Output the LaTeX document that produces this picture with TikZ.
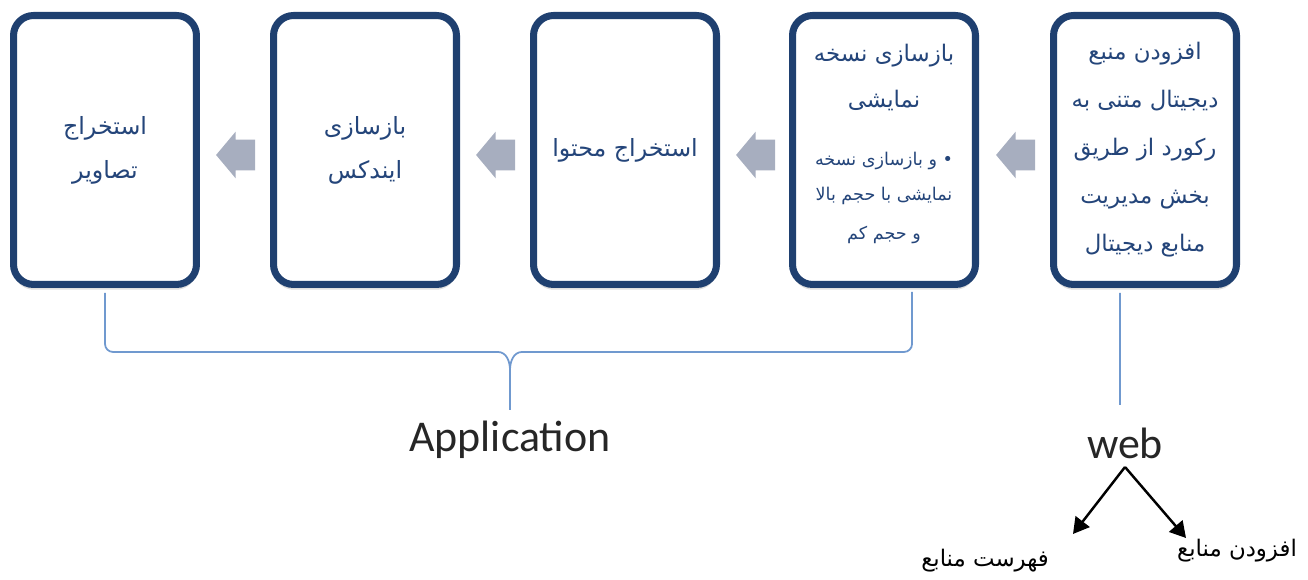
\documentclass[tikz,border=0pt]{standalone}
\usepackage{fontspec}
\setmainfont{Carlito}
\newfontfamily\farsi[Script=Arabic]{DejaVu Sans}
\TeXXeTstate=1
\usetikzlibrary{shapes.arrows,shadows,arrows.meta}
\definecolor{boxnavy}{HTML}{1F4070}
\definecolor{boxtext}{HTML}{24457A}
\definecolor{arrowgray}{HTML}{A7AEBF}
\definecolor{bracelblue}{HTML}{7099CF}
\newcommand{\fa}[1]{\beginR #1\endR}
\newcommand{\fasmall}[1]{{\fontsize{10}{18}\selectfont\beginR #1\endR}}

\begin{document}
\begin{tikzpicture}[x=0.02cm, y=0.02cm,
    stagetext/.style={align=center, text=boxtext, font=\farsi\fontsize{13.5}{25}\selectfont},
    stage/.style={stagetext, draw=boxnavy, line width=4pt, rounded corners=0.4cm, fill=white,
      minimum width=3.66cm, minimum height=5.38cm,
      drop shadow={opacity=0.25, shadow xshift=0pt, shadow yshift=-3pt}},
    flow/.style={single arrow, fill=arrowgray, shape border rotate=180,
      inner xsep=0pt, inner ysep=0.3cm, minimum height=0.78cm,
      single arrow head extend=0.16cm, single arrow tip angle=100},
    brace/.style={draw=bracelblue, line width=1pt},
    tag/.style={font=\fontsize{25}{30}\selectfont, text=black!85},
    leaf/.style={font=\farsi\fontsize{13}{16}\selectfont},
    branch/.style={-{Triangle[length=9pt, width=10pt]}, line width=1.4pt}]
  \useasboundingbox (0,0) rectangle (1308,580);

  % the five stages, right to left
  \node[stage, font=\farsi\fontsize{13}{27.3}\selectfont] (b5) at (1145,430)
    {\fa{افزودن منبع}\\\fa{دیجیتال متنی به}\\\fa{رکورد از طریق}\\\fa{بخش مدیریت}\\\fa{منابع دیجیتال}};
  \node[stage] (b4) at (884,430) {};
  \node[stagetext, font=\farsi\fontsize{13}{26}\selectfont] (b4text) at ([yshift=0.12cm]b4.center)
    {\fa{بازسازی نسخه}\\\fa{نمایشی}\\[7pt]\fasmall{• و بازسازی نسخه}\\[-6pt]\fasmall{نمایشی با حجم بالا}\\[-3.5pt]\fasmall{و حجم کم}};
  \node[stage] (b3) at (625,430) {\fa{استخراج محتوا}};
  \node[stage] (b2) at (365,430) {\fa{بازسازی}\\\fa{ایندکس}};
  \node[stage] (b1) at (105,430) {\fa{استخراج}\\\fa{تصاویر}};

  \node[flow] (f45) at (1022,425) {};
  \node[flow] (f34) at (762,425) {};
  \node[flow] (f23) at (502,425) {};
  \node[flow] (f12) at (242,425) {};

  % application brace
  \coordinate (braceR) at (912,288);
  \coordinate (braceTip) at (510,170);
  \draw[brace] ([yshift=-0.1cm]b1.south) -- (105,236) to[out=-90, in=180] (113,228)
    -- (498,228) to[out=0, in=90] (510,210) -- (braceTip);
  \draw[brace] (braceR) -- (912,236) to[out=-90, in=0] (904,228)
    -- (522,228) to[out=180, in=90] (510,210);
  \node[tag] (app) at (510,140) {Application};

  % web
  \coordinate (webTop) at (1120,175);
  \draw[brace] ([xshift=-0.5cm, yshift=-0.1cm]b5.south) -- (webTop);
  \node[tag] (web) at (1125,137) {web};
  \coordinate (listTip) at (1073,46);
  \coordinate (addTip) at (1186,42);
  \draw[branch] (1125,113) -- (listTip);
  \draw[branch] (1125,113) -- (addTip);
  \node[leaf] (list) at (985,19) {\fa{فهرست منابع}};
  \node[leaf] (add) at (1237,29) {\fa{افزودن منابع}};
\end{tikzpicture}
\end{document}
